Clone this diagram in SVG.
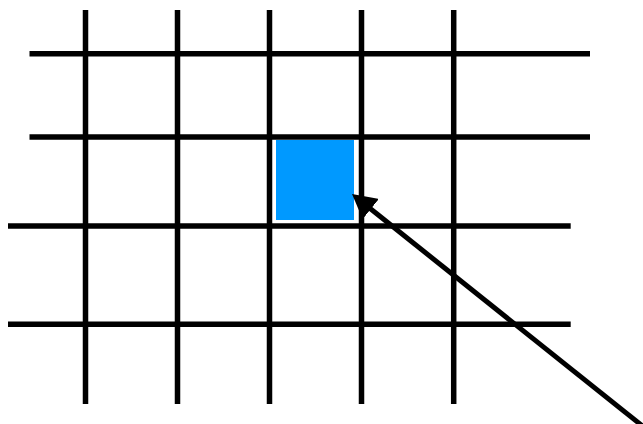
<svg xmlns="http://www.w3.org/2000/svg" width="643" height="424" viewBox="0 0 643 424">
<style>
.g{stroke:#000;stroke-width:5.5;fill:none}
.a{stroke:#000;stroke-width:5;fill:none}
</style>
<defs>
<marker id="ah" markerUnits="userSpaceOnUse" viewBox="0 0 24 26" markerWidth="24" markerHeight="26" refX="12" refY="13" orient="auto">
<path d="M0,0 L24,13 L0,26 z" fill="#000"/>
</marker>
</defs>
<rect width="643" height="424" fill="#fff"/>
<g id="cell">
<rect x="275" y="139" width="80" height="82" fill="#0099ff" stroke="#fff" stroke-width="2"/>
</g>
<g id="grid">
<line class="g" x1="85.5" y1="10" x2="85.5" y2="404"/>
<line class="g" x1="177.5" y1="10" x2="177.5" y2="404"/>
<line class="g" x1="269.5" y1="10" x2="269.5" y2="404"/>
<line class="g" x1="361.5" y1="10" x2="361.5" y2="404"/>
<line class="g" x1="453.7" y1="10" x2="453.7" y2="404"/>
<line class="g" x1="29.5" y1="53.8" x2="590" y2="53.8"/>
<line class="g" x1="29.5" y1="137" x2="590" y2="137"/>
<line class="g" x1="8" y1="226" x2="570.7" y2="226"/>
<line class="g" x1="8" y1="324.3" x2="570.7" y2="324.3"/>
</g>
<g id="connectors">
<line class="a" x1="645" y1="428" x2="361.4" y2="201.5" marker-end="url(#ah)"/>
</g>
</svg>
